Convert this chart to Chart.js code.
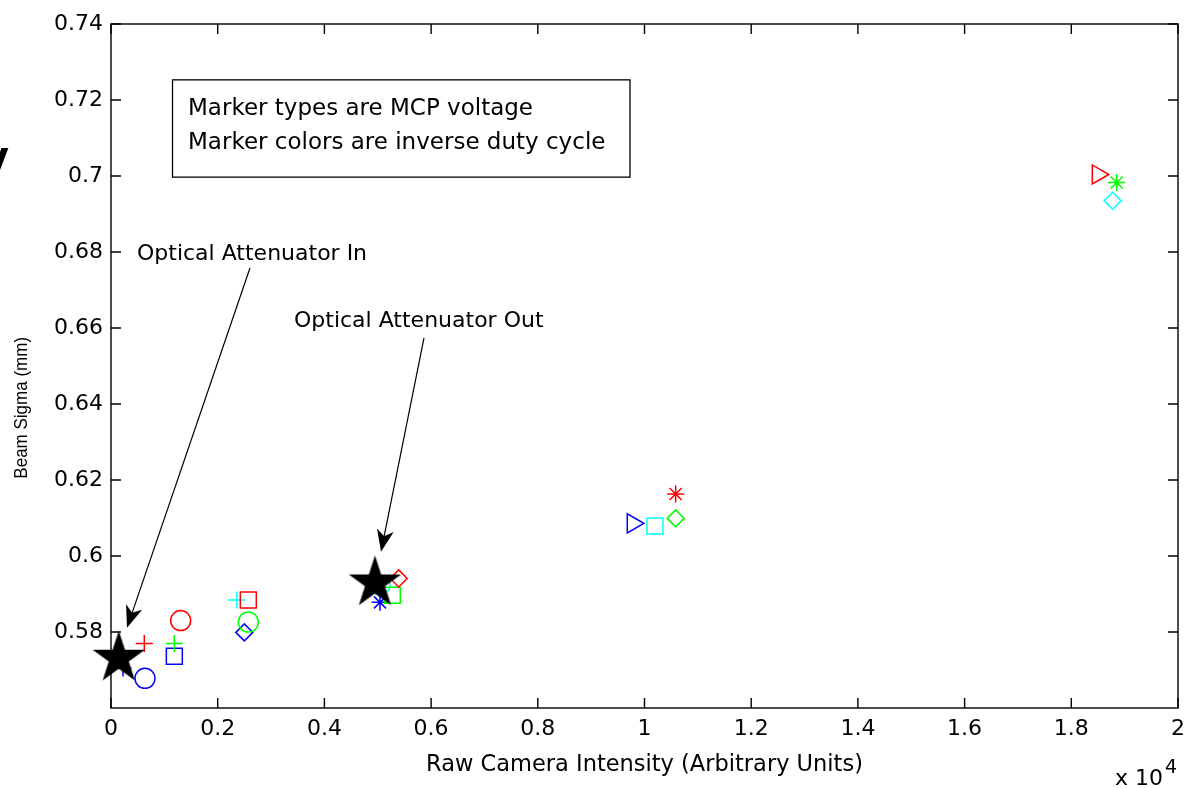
<!DOCTYPE html>
<html>
<head>
<meta charset="utf-8">
<title>Beam Sigma vs Raw Camera Intensity</title>
<script src="https://cdn.jsdelivr.net/npm/chart.js@4.4.1/dist/chart.umd.min.js"></script>
<style>
  html, body { margin: 0; padding: 0; background: #fff; overflow: hidden; }
  #wrap { position: relative; width: 1196px; height: 788px; }
</style>
</head>
<body>
<div id="wrap"><canvas id="chart" width="1196" height="788"></canvas></div>
<script>
// Marker shape stands for the MCP voltage setting
const voltageMarkers = ['cross', 'circle', 'rect', 'rectRot', 'star', 'triangle'];
const voltageMarkerSize = [8.5, 10, 11.3, 8.5, 8.5, 11];
const voltageMarkerTurn = [0, 0, 0, 0, 0, 90];

// Marker colour stands for the inverse duty cycle; intensity is in raw camera counts
const redVoltage = [0, 1, 2, 3, 4, 5];
const redIntensity = [624, 1306, 2574, 5393, 10584, 18497];
const redSigma = [0.5770, 0.5830, 0.5884, 0.5941, 0.6163, 0.7004];

const greenVoltage = [0, 1, 2, 3, 4];
const greenIntensity = [1187, 2574, 5273, 10584, 18851];
const greenSigma = [0.5770, 0.5826, 0.5897, 0.6099, 0.6983];

const cyanVoltage = [0, 1, 2, 3];
const cyanIntensity = [2356, 5042, 10197, 18775];
const cyanSigma = [0.5884, 0.5924, 0.6079, 0.6935];

const blueVoltage = [0, 1, 2, 3, 4, 5];
const blueIntensity = [225, 637, 1187, 2499, 5042, 9780];
const blueSigma = [0.5705, 0.5678, 0.5736, 0.5799, 0.5878, 0.6086];

// Optical attenuator in / out reference measurements
const attenuatorIntensity = [146, 4948];
const attenuatorSigma = [0.5731, 0.5929];

// Axis ranges and tick spacing
const xRange = [0, 20000];
const xStep = 2000;
const xMultiplier = 1e4;
const yRange = [0.56, 0.74];
const yStep = 0.02;

// Callouts, anchored in data units
const noteText = ['Optical Attenuator In', 'Optical Attenuator Out'];
const noteAt = [[487, 0.6795], [3430, 0.6618]];
const arrowFrom = [[2605, 0.6758], [5867, 0.6574]];
const arrowTo = [[300, 0.5811], [5061, 0.6011]];

const infoLines = ['Marker types are MCP voltage', 'Marker colors are inverse duty cycle'];
const infoBox = { x0: 1153, y0: 0.7253, x1: 9728, y1: 0.6997 };
const infoLineAt = [[1443, 0.71605], [1443, 0.70711]];

const FONT = 'DejaVu Sans';
const TICK = 10;

function pentagram(R) {
  const s = Math.ceil(R * 2 + 4);
  const c = document.createElement('canvas');
  c.width = s; c.height = s;
  const g = c.getContext('2d');
  g.fillStyle = '#000';
  g.beginPath();
  for (let i = 0; i < 10; i++) {
    const r = i % 2 ? R * 0.382 : R;
    const a = -Math.PI / 2 + i * Math.PI / 5;
    g.lineTo(s / 2 + r * Math.cos(a), s / 2 + r * Math.sin(a));
  }
  g.closePath();
  g.fill();
  return c;
}

function markerSeries(label, color, xs, ys, volts) {
  return {
    label,
    data: xs.map((v, i) => ({ x: v, y: ys[i] })),
    pointStyle: volts.map(k => voltageMarkers[k]),
    pointRadius: volts.map(k => voltageMarkerSize[k]),
    pointRotation: volts.map(k => voltageMarkerTurn[k]),
    borderColor: color,
    backgroundColor: 'rgba(0,0,0,0)',
    pointBackgroundColor: 'rgba(0,0,0,0)',
    pointBorderColor: color,
    pointBorderWidth: 1.5,
    showLine: false,
    clip: false,
    order: 1
  };
}

const datasets = [
  {
    label: 'Attenuator',
    data: attenuatorIntensity.map((v, i) => ({ x: v, y: attenuatorSigma[i] })),
    pointStyle: pentagram(27.5),
    pointRadius: 27,
    showLine: false,
    clip: false,
    order: 0
  },
  markerSeries('red', '#ff0000', redIntensity, redSigma, redVoltage),
  markerSeries('green', '#00ff00', greenIntensity, greenSigma, greenVoltage),
  markerSeries('cyan', '#00ffff', cyanIntensity, cyanSigma, cyanVoltage),
  markerSeries('blue', '#0000ff', blueIntensity, blueSigma, blueVoltage)
];

function drawArrow(ctx, x0, y0, x1, y1) {
  const dx = x1 - x0, dy = y1 - y0, len = Math.hypot(dx, dy);
  const ux = dx / len, uy = dy / len, nx = -uy, ny = ux;
  const L = 22, W = 8.5, notch = 0.72 * L;
  ctx.beginPath();
  ctx.moveTo(x0, y0);
  ctx.lineTo(x1 - ux * notch, y1 - uy * notch);
  ctx.stroke();
  ctx.beginPath();
  ctx.moveTo(x1, y1);
  ctx.lineTo(x1 - ux * L + nx * W, y1 - uy * L + ny * W);
  ctx.lineTo(x1 - ux * notch, y1 - uy * notch);
  ctx.lineTo(x1 - ux * L - nx * W, y1 - uy * L - ny * W);
  ctx.closePath();
  ctx.fill();
}

const frame = {
  id: 'frame',
  beforeDatasetsDraw(chart) {
    const { ctx, chartArea: a, scales: { x, y } } = chart;
    ctx.save();
    ctx.strokeStyle = '#000';
    ctx.lineWidth = 1.4;
    ctx.strokeRect(a.left, a.top, a.right - a.left, a.bottom - a.top);
    ctx.beginPath();
    x.ticks.forEach(t => {
      const px = x.getPixelForValue(t.value);
      ctx.moveTo(px, a.bottom); ctx.lineTo(px, a.bottom - TICK);
      ctx.moveTo(px, a.top); ctx.lineTo(px, a.top + TICK);
    });
    y.ticks.forEach(t => {
      const py = y.getPixelForValue(t.value);
      ctx.moveTo(a.left, py); ctx.lineTo(a.left + TICK, py);
      ctx.moveTo(a.right, py); ctx.lineTo(a.right - TICK, py);
    });
    ctx.stroke();
    ctx.restore();
  },
  afterDatasetsDraw(chart) {
    const { ctx, chartArea: a, scales: { x, y } } = chart;
    const X = v => x.getPixelForValue(v), Y = v => y.getPixelForValue(v);
    ctx.save();
    ctx.fillStyle = '#000';
    ctx.strokeStyle = '#000';

    // info box
    ctx.lineWidth = 1.3;
    ctx.strokeRect(X(infoBox.x0), Y(infoBox.y0), X(infoBox.x1) - X(infoBox.x0), Y(infoBox.y1) - Y(infoBox.y0));
    ctx.font = `23px "${FONT}"`;
    ctx.textAlign = 'left';
    ctx.textBaseline = 'alphabetic';
    infoLines.forEach((t, i) => ctx.fillText(t, X(infoLineAt[i][0]), Y(infoLineAt[i][1])));

    // callouts
    ctx.font = `22px "${FONT}"`;
    ctx.textBaseline = 'middle';
    noteText.forEach((t, i) => ctx.fillText(t, X(noteAt[i][0]), Y(noteAt[i][1])));
    ctx.lineWidth = 1.2;
    arrowFrom.forEach((p, i) => drawArrow(ctx, X(p[0]), Y(p[1]), X(arrowTo[i][0]), Y(arrowTo[i][1])));

    // exponent of the x axis
    ctx.textBaseline = 'alphabetic';
    ctx.textAlign = 'right';
    ctx.font = `22px "${FONT}"`;
    ctx.fillText('x 10', a.right - 15, a.bottom + 77);
    ctx.textAlign = 'left';
    ctx.font = `19px "${FONT}"`;
    ctx.fillText('4', a.right - 13, a.bottom + 65);

    // y axis title
    ctx.save();
    ctx.translate(22, Y(0.639));
    ctx.rotate(-Math.PI / 2);
    ctx.scale(1, 1.12);
    ctx.textAlign = 'center';
    ctx.textBaseline = 'middle';
    ctx.font = `17px "Liberation Sans"`;
    ctx.fillText('Beam Sigma (mm)', 0, 0);
    ctx.restore();

    // edge of a neighbouring label
    ctx.textAlign = 'right';
    ctx.textBaseline = 'alphabetic';
    ctx.font = `bold 40px "${FONT}"`;
    ctx.fillText('y', 9, 170);
    ctx.restore();
  }
};

Chart.defaults.font.family = FONT;
Chart.defaults.color = '#000';

new Chart(document.getElementById('chart'), {
  type: 'scatter',
  data: { datasets },
  options: {
    responsive: false,
    devicePixelRatio: 1,
    animation: false,
    events: [],
    layout: { autoPadding: false, padding: { top: 24, right: 18, bottom: 0, left: 0 } },
    plugins: { legend: { display: false }, tooltip: { enabled: false }, title: { display: false } },
    scales: {
      x: {
        type: 'linear',
        position: 'bottom',
        min: xRange[0],
        max: xRange[1],
        grid: { display: false, drawTicks: false },
        border: { display: false },
        ticks: {
          stepSize: xStep,
          autoSkip: false,
          maxRotation: 0,
          padding: 8,
          font: { size: 22 },
          color: '#000',
          callback: v => String(Number((v / xMultiplier).toFixed(1)))
        },
        title: {
          display: true,
          text: 'Raw Camera Intensity (Arbitrary Units)',
          font: { size: 22.5 },
          color: '#000',
          padding: { top: 0, bottom: 9 }
        },
        afterFit(s) { s.height = 80; s.paddingLeft = 0; s.paddingRight = 0; }
      },
      y: {
        type: 'linear',
        position: 'left',
        min: yRange[0],
        max: yRange[1],
        grid: { display: false, drawTicks: false },
        border: { display: false },
        ticks: {
          stepSize: yStep,
          autoSkip: false,
          padding: 8,
          font: { size: 22 },
          color: '#000',
          callback: v => String(Number(v.toFixed(2)))
        },
        afterBuildTicks(s) { s.ticks = s.ticks.filter(t => t.value > yRange[0] + yStep / 2); },
        afterFit(s) { s.width = 111; s.paddingTop = 0; s.paddingBottom = 0; }
      }
    }
  },
  plugins: [frame]
});
</script>
</body>
</html>
